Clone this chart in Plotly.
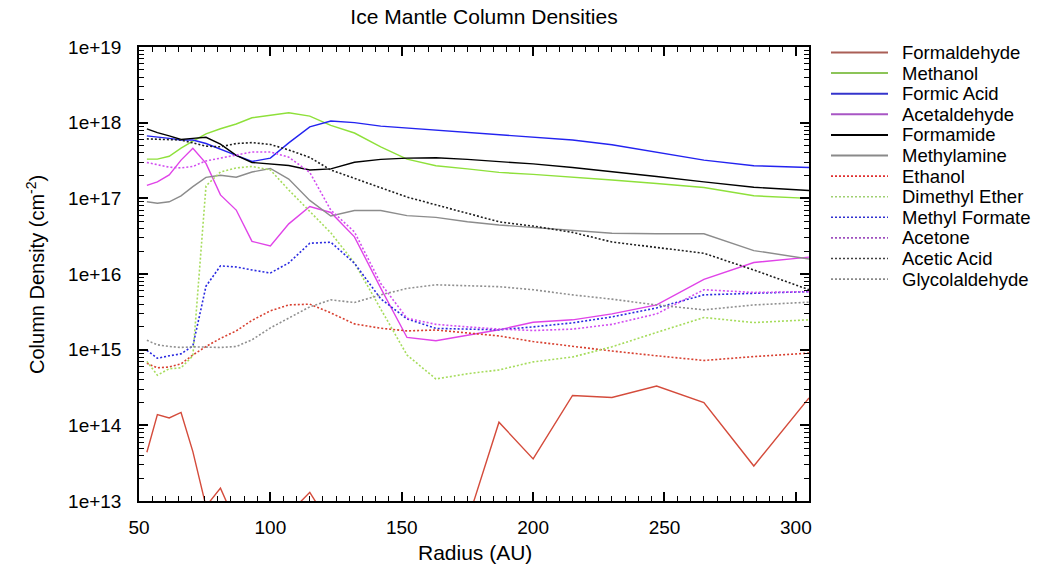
import plotly.graph_objects as go

# ---------------- data ----------------
radius_au = [53, 57, 61.5, 66, 70.5, 75.5, 81, 87, 93, 100, 107, 115, 123, 132, 142,
             152, 163, 175, 187, 200, 215, 230, 247, 265, 284, 305]

formaldehyde = [4.4e13, 1.39e14, 1.25e14, 1.48e14, 4.5e13, 8.5e12, 1.48e13, 5e12, 3.5e12, 4e12,
                6.8e12, 1.3e13, 4.7e12, 3e12, 2e12, 2e12, 2.5e12, 5.4e12, 1.1e14, 3.6e13,
                2.48e14, 2.33e14, 3.3e14, 2.0e14, 2.9e13, 2.3e14]
methanol = [3.3e17, 3.3e17, 3.6e17, 4.6e17, 5.7e17, 7.1e17, 8.3e17, 9.6e17, 1.16e18, 1.25e18,
            1.35e18, 1.22e18, 9.2e17, 7.3e17, 4.8e17, 3.3e17, 2.7e17, 2.45e17, 2.2e17, 2.07e17,
            1.92e17, 1.75e17, 1.57e17, 1.39e17, 1.08e17, 1.0e17]
formic_acid = [6.7e17, 6.5e17, 6.2e17, 5.9e17, 5.9e17, 5.3e17, 4.5e17, 3.7e17, 3.07e17, 3.4e17,
               5.4e17, 8.8e17, 1.05e18, 1.0e18, 9.0e17, 8.5e17, 8.0e17, 7.5e17, 7.0e17, 6.5e17,
               5.9e17, 5.1e17, 4.1e17, 3.2e17, 2.7e17, 2.56e17]
acetaldehyde = [1.48e17, 1.65e17, 2.04e17, 3.2e17, 4.6e17, 2.9e17, 1.11e17, 7.0e16, 2.7e16, 2.35e16,
                4.6e16, 7.8e16, 6.5e16, 3.1e16, 6.5e15, 1.45e15, 1.31e15, 1.55e15, 1.83e15, 2.3e15,
                2.48e15, 2.97e15, 3.9e15, 8.5e15, 1.42e16, 1.67e16]
formamide = [8.3e17, 7.4e17, 6.7e17, 6.0e17, 6.2e17, 6.4e17, 5.2e17, 3.7e17, 2.98e17, 2.85e17,
             2.72e17, 2.37e17, 2.45e17, 3.0e17, 3.27e17, 3.4e17, 3.44e17, 3.27e17, 3.07e17, 2.85e17,
             2.56e17, 2.26e17, 1.94e17, 1.65e17, 1.4e17, 1.27e17]
methylamine = [9.0e16, 8.6e16, 9.0e16, 1.08e17, 1.43e17, 1.89e17, 2.02e17, 1.9e17, 2.23e17, 2.48e17,
               1.8e17, 9.4e16, 5.85e16, 6.9e16, 6.9e16, 5.9e16, 5.6e16, 4.9e16, 4.45e16, 4.1e16,
               3.8e16, 3.46e16, 3.4e16, 3.4e16, 2.04e16, 1.58e16]
ethanol = [6.6e14, 5.75e14, 5.9e14, 6.5e14, 8.5e14, 1.1e15, 1.41e15, 1.77e15, 2.44e15, 3.26e15,
           3.9e15, 4.0e15, 3.06e15, 2.19e15, 1.92e15, 1.77e15, 1.82e15, 1.67e15, 1.52e15, 1.28e15,
           1.1e15, 9.6e14, 8.3e14, 7.2e14, 8.1e14, 9.0e14]
dimethyl_ether = [7.0e14, 4.6e14, 5.6e14, 5.75e14, 8.3e14, 1.46e17, 2.23e17, 2.52e17, 2.64e17, 2.37e17,
                  1.29e17, 6.7e16, 3.5e16, 1.4e16, 3.4e15, 8.5e14, 4.1e14, 4.8e14, 5.4e14, 6.9e14,
                  8.0e14, 1.09e15, 1.69e15, 2.66e15, 2.28e15, 2.48e15]
methyl_formate = [9.8e14, 7.7e14, 8.3e14, 8.8e14, 1.12e15, 6.9e15, 1.28e16, 1.24e16, 1.13e16, 1.03e16,
                  1.4e16, 2.55e16, 2.63e16, 1.39e16, 4.7e15, 2.55e15, 1.91e15, 1.88e15, 1.83e15, 2.0e15,
                  2.26e15, 2.71e15, 3.56e15, 5.3e15, 5.5e15, 5.85e15]
acetone = [2.98e17, 2.76e17, 2.58e17, 2.52e17, 2.64e17, 3.12e17, 3.42e17, 3.7e17, 4.1e17, 4.1e17,
           3.5e17, 2.2e17, 7.0e16, 3.6e16, 7.5e15, 2.6e15, 2.16e15, 2.0e15, 1.87e15, 1.79e15,
           1.87e15, 2.16e15, 2.97e15, 6.2e15, 5.7e15, 5.85e15]
acetic_acid = [6.1e17, 6.05e17, 6.0e17, 5.9e17, 5.4e17, 4.9e17, 4.8e17, 5.3e17, 5.45e17, 5.15e17,
               4.36e17, 3.47e17, 2.37e17, 1.83e17, 1.39e17, 1.04e17, 8.2e16, 6.4e16, 4.9e16, 4.3e16,
               3.55e16, 2.65e16, 2.25e16, 1.88e16, 1.13e16, 6.2e15]
glycolaldehyde = [1.33e15, 1.16e15, 1.1e15, 1.07e15, 1.09e15, 1.08e15, 1.07e15, 1.1e15, 1.35e15, 1.94e15,
                  2.6e15, 3.68e15, 4.55e15, 4.2e15, 5.3e15, 6.45e15, 7.2e15, 7.0e15, 6.8e15, 6.2e15,
                  5.3e15, 4.65e15, 3.9e15, 3.36e15, 3.9e15, 4.24e15]

series_names = ["Formaldehyde", "Methanol", "Formic Acid", "Acetaldehyde", "Formamide", "Methylamine",
                "Ethanol", "Dimethyl Ether", "Methyl Formate", "Acetone", "Acetic Acid", "Glycolaldehyde"]
series_values = [formaldehyde, methanol, formic_acid, acetaldehyde, formamide, methylamine,
                 ethanol, dimethyl_ether, methyl_formate, acetone, acetic_acid, glycolaldehyde]

x_tick_vals = [50, 100, 150, 200, 250, 300]
y_tick_vals = [1e13, 1e14, 1e15, 1e16, 1e17, 1e18, 1e19]
y_tick_text = ["1e+13", "1e+14", "1e+15", "1e+16", "1e+17", "1e+18", "1e+19"]

# ---------------- style ----------------
line_colors = ["#d44b3b", "#8ee03a", "#2323f0", "#e043e8", "#000000", "#8c8c8c",
               "#d84030", "#a6dc5c", "#2a2ae0", "#d24ef0", "#1e1e1e", "#909090"]
legend_colors = ["#aa5f56", "#8cc458", "#3434cc", "#a856c4", "#000000", "#8a8a8a",
                 "#e03030", "#a0d070", "#3030d0", "#a050c0", "#404040", "#888888"]
dashes = ["solid"] * 6 + ["2px,2px"] * 6

FONT = "Liberation Sans, Arial, Helvetica, sans-serif"
W, H = 1048, 568
L, R, T, B = 139, 809, 47, 501  # plot area in pixels


def px(xp):
    return (xp - L) / (R - L)


def py(yp):
    return (B - yp) / (B - T)


fig = go.Figure()
for name, vals, col, dsh in zip(series_names, series_values, line_colors, dashes):
    fig.add_trace(go.Scatter(
        x=radius_au, y=vals, name=name, mode="lines",
        line=dict(color=col, width=1.4 if dsh == "solid" else 1.6, dash=dsh),
        showlegend=False,
    ))

# manual legend (compact rows like the reference)
shapes = []
annotations = []
for i, (name, col, dsh) in enumerate(zip(series_names, legend_colors, dashes)):
    yy = 52.5 + i * 20.6
    shapes.append(dict(type="line", xref="paper", yref="paper",
                       x0=px(831), x1=px(888), y0=py(yy), y1=py(yy),
                       line=dict(color=col, width=2 if dsh == "solid" else 1.6, dash=dsh)))
    annotations.append(dict(xref="paper", yref="paper", x=px(900), y=py(yy),
                            text=name, showarrow=False, xanchor="left", yanchor="middle",
                            font=dict(family=FONT, size=18.5, color="black")))

# axis titles
annotations.append(dict(xref="paper", yref="paper", x=px(475), y=py(552), text="Radius (AU)",
                        showarrow=False, xanchor="center", yanchor="middle",
                        font=dict(family=FONT, size=21, color="black")))
annotations.append(dict(xref="paper", yref="paper", x=px(35), y=py(275),
                        text="Column Density (cm<sup>-2</sup>)", textangle=-90,
                        showarrow=False, xanchor="center", yanchor="middle",
                        font=dict(family=FONT, size=20, color="black")))

minor_y = [k * 10 ** e for e in range(13, 19) for k in range(2, 10)]

fig.update_layout(
    width=W, height=H,
    margin=dict(l=L, r=W - R, t=T, b=H - B, pad=0),
    paper_bgcolor="white", plot_bgcolor="white",
    font=dict(family=FONT, size=19, color="black"),
    title=dict(text="Ice Mantle Column Densities", xref="container", yref="container",
               x=484 / W, y=1 - 17 / H, xanchor="center", yanchor="middle",
               font=dict(family=FONT, size=21, color="black")),
    shapes=shapes, annotations=annotations,
    showlegend=False,
)
fig.update_xaxes(
    range=[50, 305], tickvals=x_tick_vals, ticks="inside", ticklen=9, tickwidth=1.5,
    tickcolor="black", showline=True, linecolor="black", linewidth=1.5, mirror="allticks",
    showgrid=False, zeroline=False, ticklabelstandoff=8,
    tickfont=dict(family=FONT, size=19, color="black"),
    minor=dict(ticks="inside", ticklen=5, tickwidth=1, tickcolor="black", dtick=5, tick0=50,
               showgrid=False),
)
fig.update_yaxes(
    type="log", range=[13, 19], tickvals=y_tick_vals, ticktext=y_tick_text,
    ticks="inside", ticklen=9, tickwidth=1.5, tickcolor="black",
    showline=True, linecolor="black", linewidth=1.5, mirror="allticks",
    showgrid=False, zeroline=False, ticklabelstandoff=12,
    tickfont=dict(family=FONT, size=19, color="black"),
    minor=dict(ticks="inside", ticklen=5, tickwidth=1, tickcolor="black", tickvals=minor_y,
               showgrid=False),
)

fig.write_html("out.html")
